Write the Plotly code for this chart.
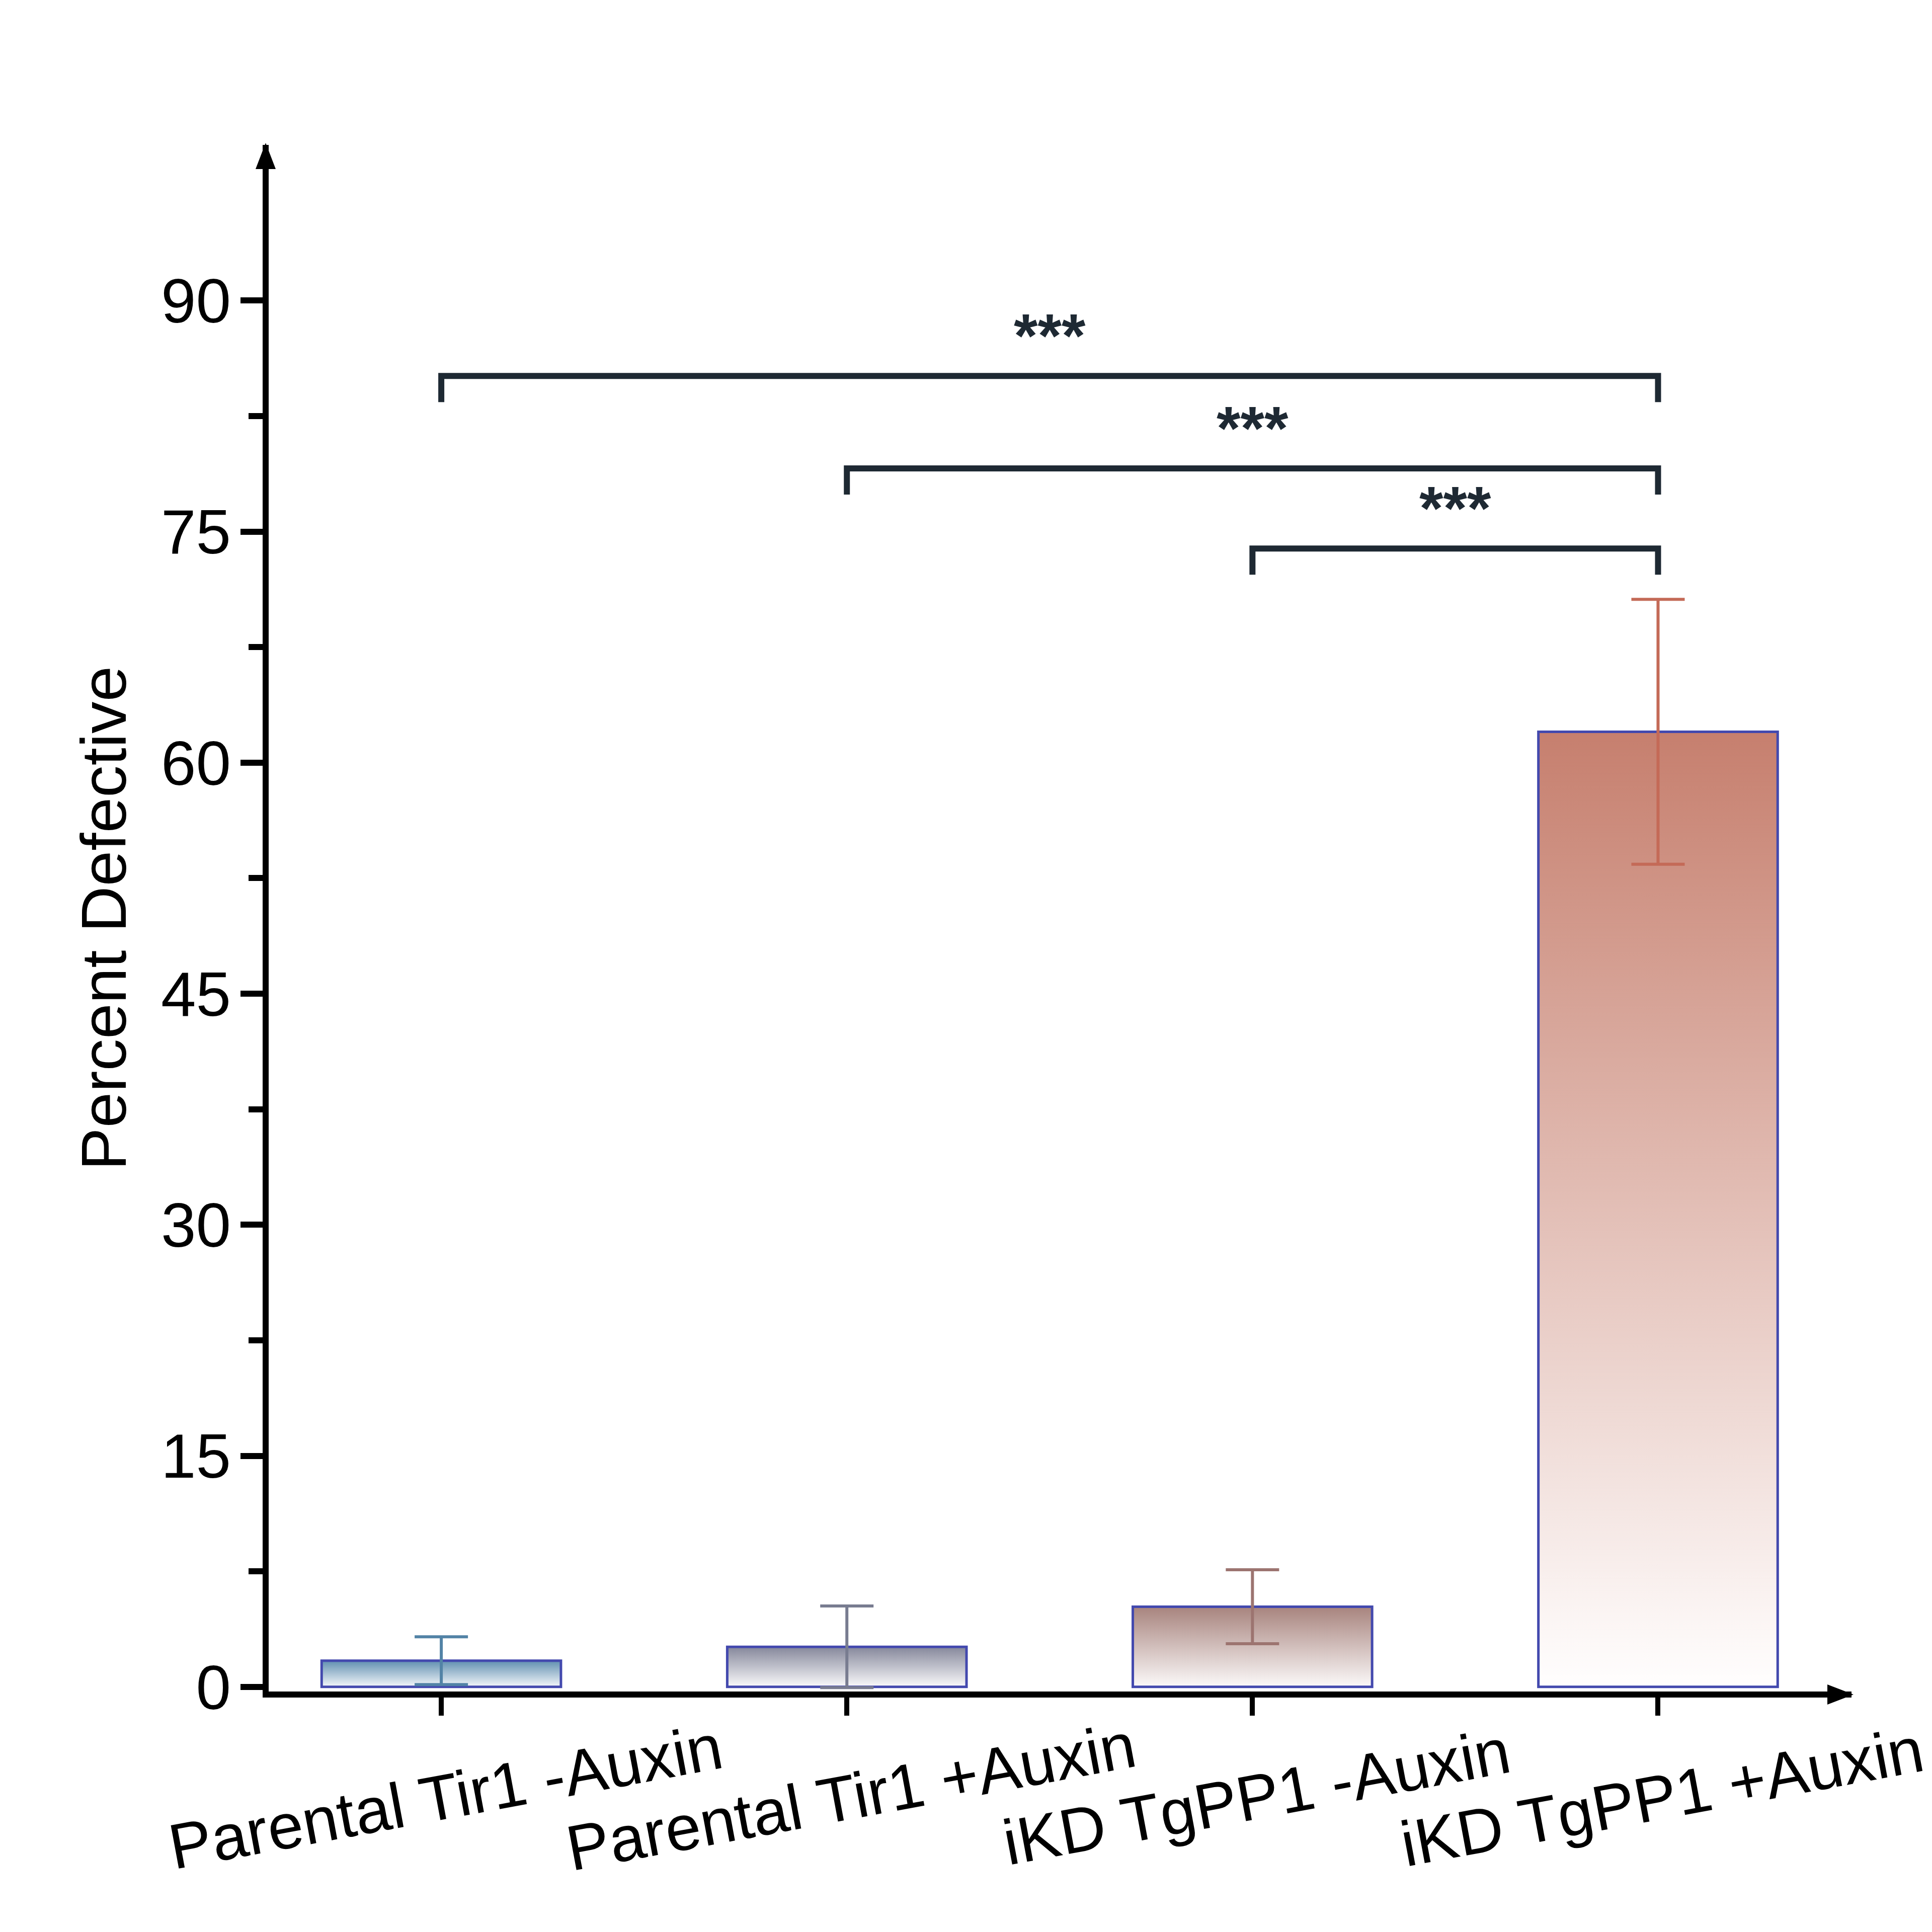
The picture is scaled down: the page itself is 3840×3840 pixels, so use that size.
import plotly.graph_objects as go

# ---- data ----
categories = ["Parental Tir1 -Auxin", "Parental Tir1 +Auxin", "iKD TgPP1 -Auxin", "iKD TgPP1 +Auxin"]
means = [1.7, 2.6, 5.2, 62.0]
errors = [1.55, 2.65, 2.4, 8.6]
comparisons = [(0, 3), (1, 3), (2, 3)]
comparison_levels = [85.1, 79.1, 73.9]
comparison_labels = ["***", "***", "***"]
y_tick_values = [0, 15, 30, 45, 60, 75, 90]
y_minor_values = [7.5, 22.5, 37.5, 52.5, 67.5, 82.5]

# ---- styles ----
top_colors = ["#6190b1", "#85879b", "#a8847e", "#c67f6e"]
bottom_colors = ["#f4f7fa", "#fafafb", "#fbf9f9", "#fffefe"]
err_colors = ["#5283a6", "#787c90", "#9c7470", "#c46a57"]
outline = "#4349ae"
bracket_color = "#1e2933"
FONT = "Liberation Sans, Arial, sans-serif"

W = H = 3840
L, R, T, B = 534, 160, 288, 478
plot_w = W - L - R
plot_h = H - T - B
bar_w = 0.59
xr = [-0.4256, 3.477]
yr = [-0.3, 100.1]


def px_to_paper(px, py):
    return (px - L) / plot_w, (H - B - py) / plot_h


fig = go.Figure()

# gradient fills (base subplot)
for i, (m, ct, cb) in enumerate(zip(means, top_colors, bottom_colors)):
    x0, x1 = i - bar_w / 2, i + bar_w / 2
    fig.add_trace(go.Scatter(
        x=[x0, x1, x1, x0, x0], y=[0, 0, m, m, 0],
        mode="lines", line=dict(width=0), fill="toself",
        fillgradient=dict(type="vertical", colorscale=[[0, cb], [1, ct]]),
        hoverinfo="skip", showlegend=False, xaxis="x", yaxis="y"))

# bar outlines + error bars (overlaying subplot, drawn on top)
for i, (m, e, ec) in enumerate(zip(means, errors, err_colors)):
    fig.add_trace(go.Bar(
        x=[i], y=[m], width=bar_w,
        marker=dict(color="rgba(0,0,0,0)", line=dict(color=outline, width=5)),
        error_y=dict(type="data", array=[e], color=ec, thickness=6, width=53, visible=True),
        showlegend=False, xaxis="x2", yaxis="y2"))

shapes = []
annotations = []

# significance brackets
drop = 1.7
for (a, b), lvl, lab in zip(comparisons, comparison_levels, comparison_labels):
    shapes.append(dict(type="path", xref="x", yref="y",
                       path=f"M {a},{lvl - drop} L {a},{lvl} L {b},{lvl} L {b},{lvl - drop}",
                       line=dict(color=bracket_color, width=12)))
    annotations.append(dict(x=(a + b) / 2, y=lvl, xref="x", yref="y", text=f"<b>{lab}</b>",
                            showarrow=False, yanchor="bottom", yshift=10,
                            font=dict(family=FONT, size=122, color=bracket_color)))

# axis arrowheads
def tri(pts):
    p = [px_to_paper(*q) for q in pts]
    return "M " + " L ".join(f"{x},{y}" for x, y in p) + " Z"

shapes.append(dict(type="path", xref="paper", yref="paper",
                   path=tri([(528, 284), (508, 336), (548, 336)]),
                   fillcolor="black", line=dict(width=0)))
shapes.append(dict(type="path", xref="paper", yref="paper",
                   path=tri([(3684, 3368), (3632, 3348), (3632, 3388)]),
                   fillcolor="black", line=dict(width=0)))

# x category labels
for i, c in enumerate(categories):
    annotations.append(dict(x=i + 0.01, y=-0.068, xref="x", yref="paper", text=c,
                            showarrow=False, textangle=-10.5, xanchor="center", yanchor="middle",
                            font=dict(family=FONT, size=127, color="black")))

fig.update_layout(
    width=W, height=H,
    margin=dict(l=L, r=R, t=T, b=B),
    paper_bgcolor="white", plot_bgcolor="white",
    barmode="overlay",
    showlegend=False,
    shapes=shapes,
    annotations=annotations,
    font=dict(family=FONT, color="black"),
    xaxis=dict(range=xr, showgrid=False, zeroline=False, showline=True, linecolor="black",
               linewidth=12, ticks="outside", ticklen=36, tickwidth=10, tickcolor="black",
               tickmode="array", tickvals=list(range(len(categories))), showticklabels=False),
    yaxis=dict(range=yr, showgrid=False, zeroline=False, showline=True, linecolor="black",
               linewidth=12, ticks="outside", ticklen=44, tickwidth=12, tickcolor="black",
               tickmode="array", tickvals=y_tick_values,
               ticklabelstandoff=-6,
               tickfont=dict(family=FONT, size=125, color="black"),
               minor=dict(tickmode="array", tickvals=y_minor_values, ticks="outside",
                          ticklen=28, tickwidth=12, tickcolor="black", showgrid=False),
               title=dict(text="Percent Defective", standoff=32,
                          font=dict(family=FONT, size=127, color="black"))),
    xaxis2=dict(range=xr, overlaying="x", visible=False, showgrid=False, zeroline=False),
    yaxis2=dict(range=yr, overlaying="y", visible=False, showgrid=False, zeroline=False),
)

fig.write_html("out.html")
